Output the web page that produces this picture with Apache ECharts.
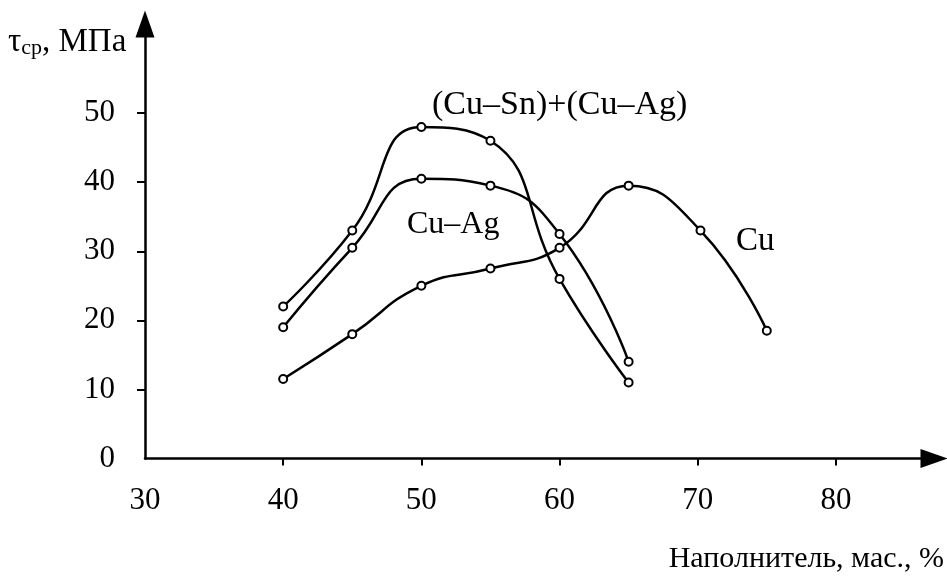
<!DOCTYPE html>
<html>
<head>
<meta charset="utf-8">
<script src="https://cdn.jsdelivr.net/npm/echarts@6/dist/echarts.min.js"></script>
<style>
  html, body { margin: 0; padding: 0; background: #fff; }
  #chart { width: 947px; height: 579px; }
</style>
</head>
<body>
<div id="chart"></div>
<script>
// Shear strength vs. filler content for three solder fillers
const fillerPct = [40, 45, 50, 55, 60, 65];
const cuSnCuAg = [22, 33, 48, 46, 26, 11];
const cuAg = [19, 30.5, 40.5, 39.5, 32.5, 14];
const cuFillerPct = [40, 45, 50, 55, 60, 65, 70.2, 75];
const cu = [11.5, 18, 25, 27.5, 30.5, 39.5, 33, 18.5];

const xTicks = [40, 50, 60, 70, 80];
const xLabels = [30, 40, 50, 60, 70, 80];
const yTicks = [10, 20, 30, 40, 50];
const yLabels = [0, 10, 20, 30, 40, 50];

const seriesNames = ['(Cu–Sn)+(Cu–Ag)', 'Cu–Ag', 'Cu'];

const FONT = '"Liberation Serif", "Times New Roman", serif';

function pairs(xs, ys) { return xs.map((x, i) => [x, ys[i]]); }

function curve(name, data) {
  return {
    name: name,
    type: 'line',
    data: data,
    smooth: 0.5,
    symbol: 'circle',
    symbolSize: 8,
    lineStyle: { color: '#000', width: 2.5 },
    itemStyle: { color: '#fff', borderColor: '#000', borderWidth: 2 },
    z: 3
  };
}

const chart = echarts.init(document.getElementById('chart'), null, { renderer: 'canvas' });

chart.setOption({
  backgroundColor: '#fff',
  animation: false,
  grid: { left: 145, right: 13, top: 24, bottom: 120.5, containLabel: false },
  xAxis: {
    type: 'value',
    min: 30,
    max: 87.1,
    interval: 10,
    splitLine: { show: false },
    axisLine: { show: true, lineStyle: { color: '#000', width: 2.5 }, symbol: ['none', 'triangle'], symbolSize: [19, 27] },
    axisTick: { show: true, length: 7, lineStyle: { color: '#000', width: 2 }, customValues: xTicks },
    axisLabel: { color: '#000', fontFamily: FONT, fontSize: 31, margin: 27, customValues: xLabels }
  },
  yAxis: {
    type: 'value',
    min: 0,
    max: 62.9,
    interval: 10,
    splitLine: { show: false },
    axisLine: { show: true, lineStyle: { color: '#000', width: 2.5 }, symbol: ['none', 'triangle'], symbolSize: [19, 27] },
    axisTick: { show: true, length: 8, lineStyle: { color: '#000', width: 2 }, customValues: yTicks },
    axisLabel: { color: '#000', fontFamily: FONT, fontSize: 31, margin: 30, customValues: yLabels }
  },
  series: [
    curve(seriesNames[0], pairs(fillerPct, cuSnCuAg)),
    curve(seriesNames[1], pairs(fillerPct, cuAg)),
    curve(seriesNames[2], pairs(cuFillerPct, cu))
  ],
  graphic: [
    { type: 'text', left: 432, top: 88, style: { text: seriesNames[0], font: '34px ' + FONT, fill: '#000' } },
    { type: 'text', left: 407, top: 209, style: { text: seriesNames[1], font: '32px ' + FONT, fill: '#000' } },
    { type: 'text', left: 736, top: 225, style: { text: seriesNames[2], font: '33px ' + FONT, fill: '#000' } },
    {
      type: 'text', left: 8, top: 26,
      style: {
        text: '{t|τ}{s|ср}{t|, МПа}',
        fill: '#000',
        rich: {
          t: { fontFamily: FONT, fontSize: 33, color: '#000' },
          s: { fontFamily: FONT, fontSize: 22, color: '#000', padding: [11, 0, 0, 0] }
        }
      }
    },
    { type: 'text', right: 3, top: 544, style: { text: 'Наполнитель, мас., %', font: '30px ' + FONT, fill: '#000' } }
  ]
});
</script>
</body>
</html>
